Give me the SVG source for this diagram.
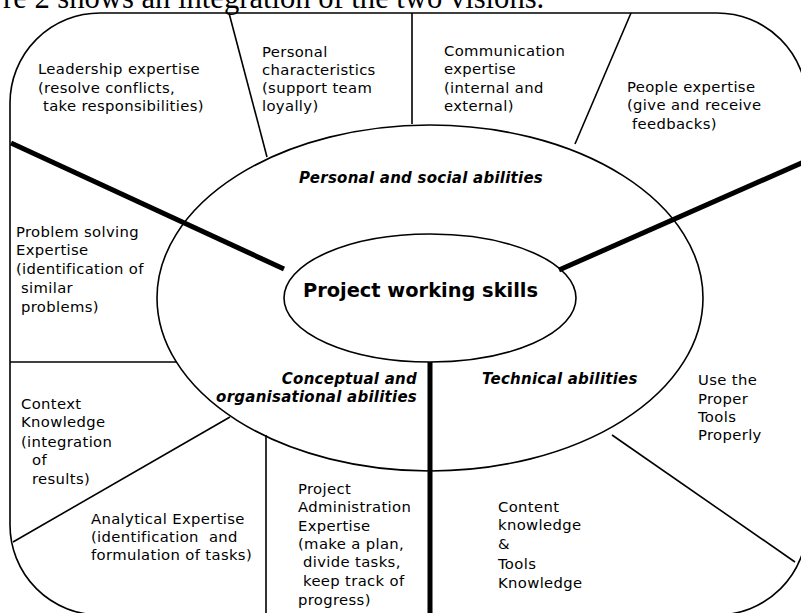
<svg xmlns="http://www.w3.org/2000/svg" width="801" height="613" viewBox="0 0 801 613">
<style>
.t{font-family:"DejaVu Sans",Verdana,sans-serif;font-size:14.8px;letter-spacing:0.35px;fill:#000}
.bi{font-family:"DejaVu Sans",Verdana,sans-serif;font-size:15px;letter-spacing:0.25px;font-weight:bold;font-style:italic;fill:#000}
.thin{stroke:#000;stroke-width:1.6;fill:none}
.thick{stroke:#000;stroke-width:5;fill:none}
</style>
<rect x="0" y="0" width="801" height="613" fill="#fff"/>
<text x="3" y="8" font-family="'Liberation Serif',serif" font-size="30.6" fill="#000">re 2 shows an integration of the two visions.</text>

<g id="frame"><rect x="10" y="13" width="797" height="602" rx="90" ry="90" class="thin" stroke-width="2"/></g>
<g id="social-ring"><ellipse cx="430" cy="298" rx="273" ry="173" class="thin"/></g>

<g id="connectors">
<line class="thin" x1="229" y1="13" x2="267" y2="157"/>
<line class="thin" x1="412" y1="13" x2="412" y2="124"/>
<line class="thin" x1="631" y1="13" x2="575" y2="144"/>
<line class="thin" x1="10" y1="362" x2="177" y2="362"/>
<line class="thin" x1="13" y1="542" x2="230" y2="417"/>
<line class="thin" x1="266" y1="435" x2="266" y2="613"/>
<line class="thin" x1="612" y1="435" x2="795" y2="562"/>
<line class="thick" x1="11" y1="143" x2="284" y2="269"/>
<line class="thick" x1="559" y1="270" x2="806" y2="161"/>
<line class="thick" x1="430" y1="362" x2="430" y2="613"/>
</g>

<g id="core"><ellipse cx="430" cy="298" rx="146" ry="64" class="thin"/>
<text x="420.5" y="297" text-anchor="middle" font-family="'DejaVu Sans',Verdana,sans-serif" font-size="19.4" font-weight="bold">Project working skills</text></g>

<g id="personal-social"><text class="bi" x="299" y="183">Personal and social abilities</text></g>
<g id="conceptual"><text class="bi" text-anchor="end"><tspan x="417" y="384">Conceptual and</tspan><tspan x="417" y="402">organisational abilities</tspan></text></g>
<g id="technical"><text class="bi" x="482" y="384">Technical abilities</text></g>

<g id="leadership"><text class="t"><tspan x="38" y="74">Leadership expertise</tspan><tspan x="38" y="92.5">(resolve conflicts,</tspan><tspan x="43" y="111">take responsibilities)</tspan></text></g>
<g id="personal-char"><text class="t"><tspan x="262" y="56.5">Personal</tspan><tspan x="262" y="74.5">characteristics</tspan><tspan x="262" y="93">(support team</tspan><tspan x="262" y="111">loyally)</tspan></text></g>
<g id="communication"><text class="t"><tspan x="444" y="55.5">Communication</tspan><tspan x="444" y="74">expertise</tspan><tspan x="444" y="92.5">(internal and</tspan><tspan x="444" y="111">external)</tspan></text></g>
<g id="people"><text class="t"><tspan x="627" y="92">People expertise</tspan><tspan x="627" y="110">(give and receive</tspan><tspan x="632" y="128.5">feedbacks)</tspan></text></g>
<g id="problem-solving"><text class="t"><tspan x="16" y="237">Problem solving</tspan><tspan x="16" y="255">Expertise</tspan><tspan x="16" y="273.5">(identification of</tspan><tspan x="21" y="293">similar</tspan><tspan x="21" y="312">problems)</tspan></text></g>
<g id="context"><text class="t"><tspan x="21" y="408.5">Context</tspan><tspan x="21" y="427">Knowledge</tspan><tspan x="21" y="446.5">(integration</tspan><tspan x="32" y="465">of</tspan><tspan x="32" y="484">results)</tspan></text></g>
<g id="analytical"><text class="t"><tspan x="91" y="523.5">Analytical Expertise</tspan><tspan x="91" y="541.5" xml:space="preserve">(identification  and</tspan><tspan x="91" y="559.5">formulation of tasks)</tspan></text></g>
<g id="administration"><text class="t"><tspan x="298" y="493.5">Project</tspan><tspan x="298" y="512">Administration</tspan><tspan x="298" y="531">Expertise</tspan><tspan x="298" y="548.5">(make a plan,</tspan><tspan x="303" y="567">divide tasks,</tspan><tspan x="303" y="586">keep track of</tspan><tspan x="298" y="605">progress)</tspan></text></g>
<g id="tools"><text class="t"><tspan x="698" y="385">Use the</tspan><tspan x="698" y="403.5">Proper</tspan><tspan x="698" y="422">Tools</tspan><tspan x="698" y="440">Properly</tspan></text></g>
<g id="content"><text class="t"><tspan x="498" y="512">Content</tspan><tspan x="498" y="530">knowledge</tspan><tspan x="498" y="549">&amp;</tspan><tspan x="498" y="568.5">Tools</tspan><tspan x="498" y="587.5">Knowledge</tspan></text></g>
</svg>
